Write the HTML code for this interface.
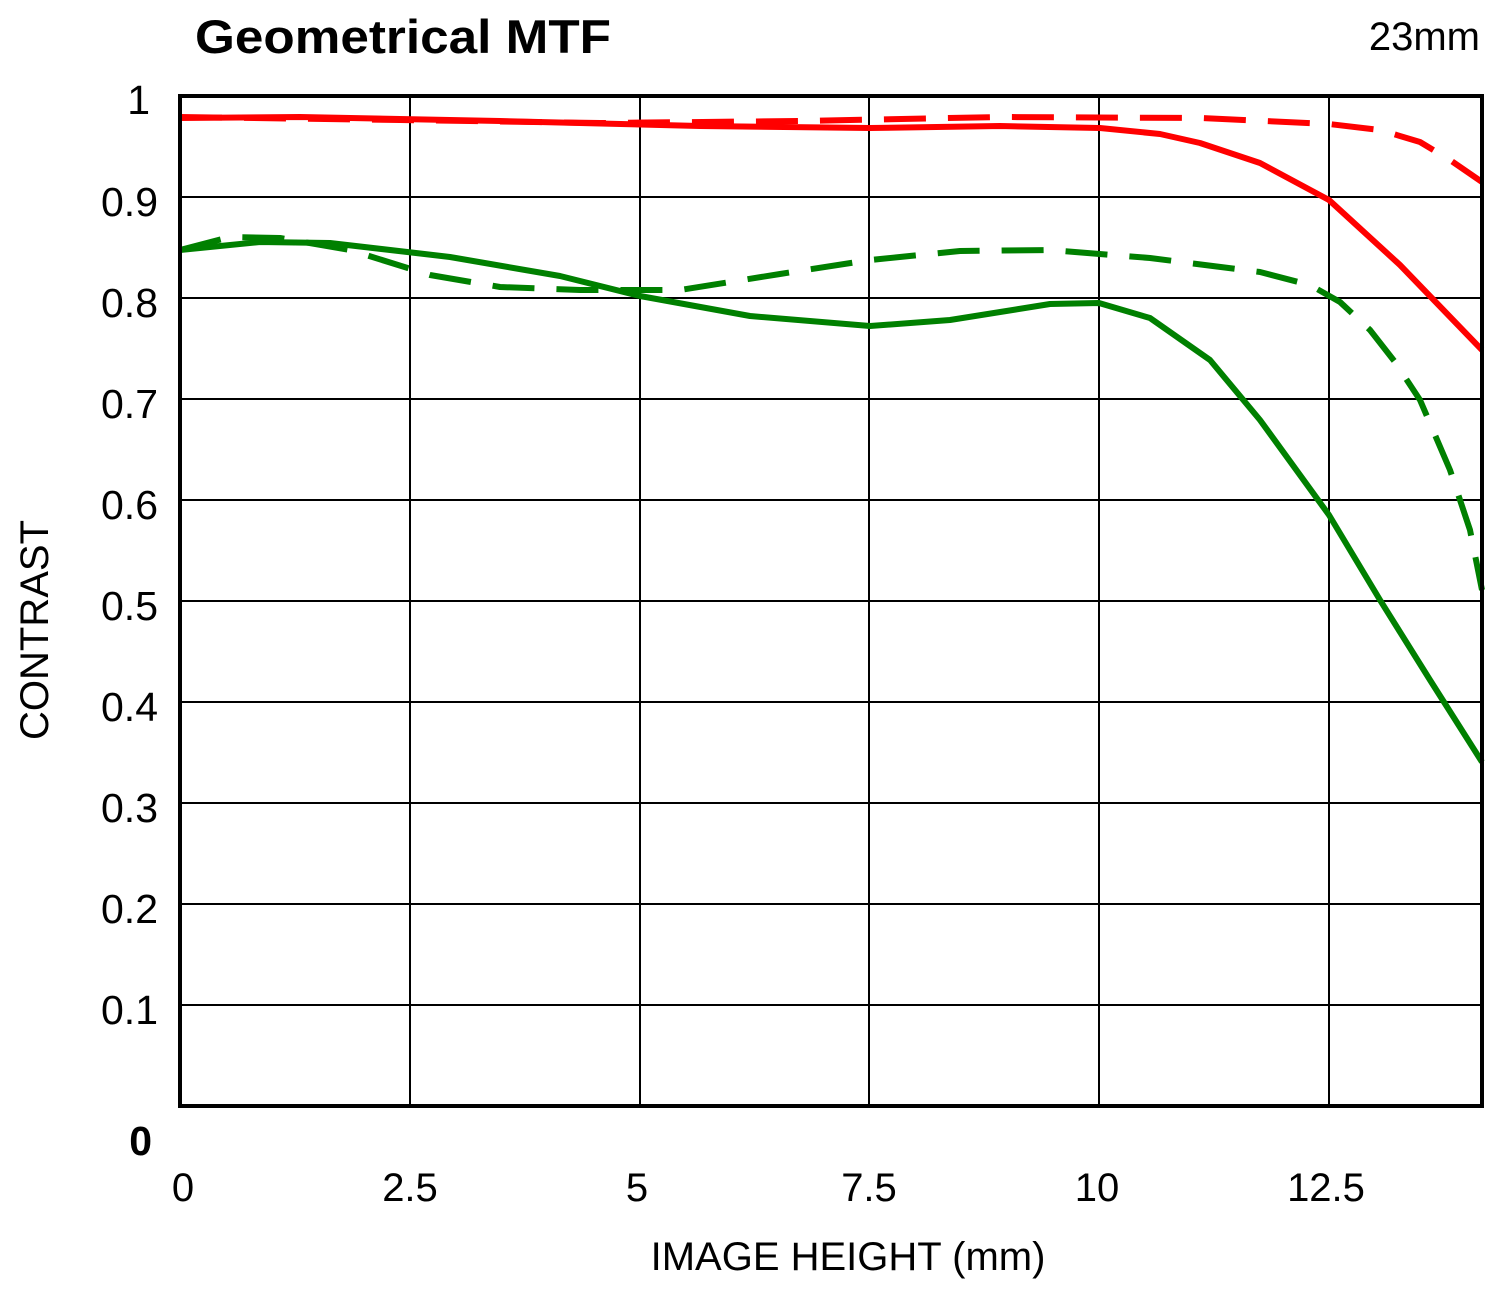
<!DOCTYPE html>
<html><head><meta charset="utf-8"><style>body{margin:0;background:#fff}</style></head>
<body>
<svg width="1500" height="1286" xmlns="http://www.w3.org/2000/svg" font-family="Liberation Sans, sans-serif">
<rect width="1500" height="1286" fill="#fff"/>
<text x="195" y="53" font-size="47" font-weight="bold" textLength="416" lengthAdjust="spacingAndGlyphs">Geometrical MTF</text>
<text x="1480" y="50" font-size="40" text-anchor="end">23mm</text>
<g stroke="#000" stroke-width="2">
<line x1="180" y1="197" x2="1482" y2="197"/><line x1="180" y1="298" x2="1482" y2="298"/>
<line x1="180" y1="399" x2="1482" y2="399"/><line x1="180" y1="500" x2="1482" y2="500"/>
<line x1="180" y1="601" x2="1482" y2="601"/><line x1="180" y1="702" x2="1482" y2="702"/>
<line x1="180" y1="803" x2="1482" y2="803"/><line x1="180" y1="904" x2="1482" y2="904"/>
<line x1="180" y1="1005" x2="1482" y2="1005"/>
<line x1="410" y1="96" x2="410" y2="1106"/><line x1="640" y1="96" x2="640" y2="1106"/>
<line x1="869" y1="96" x2="869" y2="1106"/><line x1="1099" y1="96" x2="1099" y2="1106"/>
<line x1="1329" y1="96" x2="1329" y2="1106"/>
</g>
<g fill="none" stroke-width="6" stroke-linejoin="round">
<polyline stroke="#ff0000" points="180,118 300,117 500,121 700,126 870,128 1000,126 1100,128 1160,134 1200,143 1260,163 1329,200 1400,265 1482,350"/>
<polyline stroke="#ff0000" stroke-dasharray="42,22" points="180,117 400,120 600,123 800,121 1000,117 1200,118 1329,124 1380,130 1420,142 1450,160 1482,182"/>
<polyline stroke="#008000" points="180,250 260,242 330,243 450,257 560,276 640,296 750,316 870,326 950,320 1050,304 1099,303 1150,318 1210,360 1260,420 1329,515 1380,600 1430,680 1482,762"/>
<polyline stroke="#008000" stroke-dasharray="42,22" points="180,250 230,237 280,238 350,250 430,275 500,287 580,290 680,290 780,274 870,260 960,251 1050,250 1150,258 1260,272 1310,285 1340,302 1370,330 1395,362 1420,400 1450,470 1470,530 1482,590"/>
</g>
<rect x="180" y="96" width="1302" height="1010" fill="none" stroke="#000" stroke-width="4"/>
<g font-size="41" text-anchor="end">
<text x="150" y="114">1</text><text x="158" y="216">0.9</text><text x="158" y="317">0.8</text>
<text x="158" y="418">0.7</text><text x="158" y="519">0.6</text><text x="158" y="620">0.5</text>
<text x="158" y="721">0.4</text><text x="158" y="822">0.3</text><text x="158" y="923">0.2</text>
<text x="158" y="1024">0.1</text><text x="152" y="1155" font-weight="bold">0</text>
</g>
<g font-size="40" text-anchor="middle">
<text x="183" y="1201">0</text><text x="410" y="1201">2.5</text><text x="637" y="1201">5</text>
<text x="869" y="1201">7.5</text><text x="1097" y="1201">10</text><text x="1326" y="1201">12.5</text>
<text x="848" y="1270">IMAGE HEIGHT (mm)</text>
<text transform="translate(48,630) rotate(-90)">CONTRAST</text>
</g>
</svg>
</body></html>
